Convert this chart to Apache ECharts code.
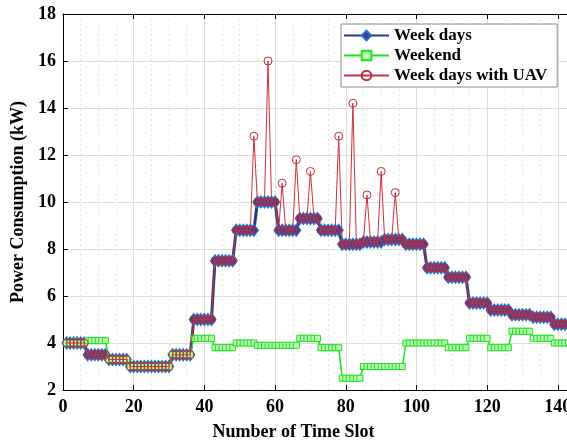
<!DOCTYPE html>
<html>
	<head>
		<meta charset="utf-8">
		<title>Power Consumption</title>
		<script src="https://cdn.jsdelivr.net/npm/echarts@6/dist/echarts.min.js"></script>
		<style>
			html,
			body {
				margin: 0;
				height: 100%;
				background: #fff;
			}
		</style>
	</head>
	<body>
		<div id="main" style="width: 567px;height:442px;"></div>
		<script>
			// values per time slot (6 slots per hour, 144 slots)
			var weekDays = [
				4.0, 4.0, 4.0, 4.0, 4.0, 4.0, 3.5, 3.5, 3.5, 3.5, 3.5, 3.5,
				3.3, 3.3, 3.3, 3.3, 3.3, 3.3, 3.0, 3.0, 3.0, 3.0, 3.0, 3.0,
				3.0, 3.0, 3.0, 3.0, 3.0, 3.0, 3.5, 3.5, 3.5, 3.5, 3.5, 3.5,
				5.0, 5.0, 5.0, 5.0, 5.0, 5.0, 7.5, 7.5, 7.5, 7.5, 7.5, 7.5,
				8.8, 8.8, 8.8, 8.8, 8.8, 8.8, 10.0, 10.0, 10.0, 10.0, 10.0, 10.0,
				8.8, 8.8, 8.8, 8.8, 8.8, 8.8, 9.3, 9.3, 9.3, 9.3, 9.3, 9.3,
				8.8, 8.8, 8.8, 8.8, 8.8, 8.8, 8.2, 8.2, 8.2, 8.2, 8.2, 8.2,
				8.3, 8.3, 8.3, 8.3, 8.3, 8.3, 8.4, 8.4, 8.4, 8.4, 8.4, 8.4,
				8.2, 8.2, 8.2, 8.2, 8.2, 8.2, 7.2, 7.2, 7.2, 7.2, 7.2, 7.2,
				6.8, 6.8, 6.8, 6.8, 6.8, 6.8, 5.7, 5.7, 5.7, 5.7, 5.7, 5.7,
				5.4, 5.4, 5.4, 5.4, 5.4, 5.4, 5.2, 5.2, 5.2, 5.2, 5.2, 5.2,
				5.1, 5.1, 5.1, 5.1, 5.1, 5.1, 4.8, 4.8, 4.8, 4.8, 4.8, 4.8
			];
			var weekend = [
				4.0, 4.0, 4.0, 4.0, 4.0, 4.0, 4.1, 4.1, 4.1, 4.1, 4.1, 4.1,
				3.3, 3.3, 3.3, 3.3, 3.3, 3.3, 3.0, 3.0, 3.0, 3.0, 3.0, 3.0,
				3.0, 3.0, 3.0, 3.0, 3.0, 3.0, 3.5, 3.5, 3.5, 3.5, 3.5, 3.5,
				4.2, 4.2, 4.2, 4.2, 4.2, 4.2, 3.8, 3.8, 3.8, 3.8, 3.8, 3.8,
				4.0, 4.0, 4.0, 4.0, 4.0, 4.0, 3.9, 3.9, 3.9, 3.9, 3.9, 3.9,
				3.9, 3.9, 3.9, 3.9, 3.9, 3.9, 4.2, 4.2, 4.2, 4.2, 4.2, 4.2,
				3.8, 3.8, 3.8, 3.8, 3.8, 3.8, 2.5, 2.5, 2.5, 2.5, 2.5, 2.5,
				3.0, 3.0, 3.0, 3.0, 3.0, 3.0, 3.0, 3.0, 3.0, 3.0, 3.0, 3.0,
				4.0, 4.0, 4.0, 4.0, 4.0, 4.0, 4.0, 4.0, 4.0, 4.0, 4.0, 4.0,
				3.8, 3.8, 3.8, 3.8, 3.8, 3.8, 4.2, 4.2, 4.2, 4.2, 4.2, 4.2,
				3.8, 3.8, 3.8, 3.8, 3.8, 3.8, 4.5, 4.5, 4.5, 4.5, 4.5, 4.5,
				4.2, 4.2, 4.2, 4.2, 4.2, 4.2, 4.0, 4.0, 4.0, 4.0, 4.0, 4.0
			];
			var weekDaysUav = [
				4.0, 4.0, 4.0, 4.0, 4.0, 4.0, 3.5, 3.5, 3.5, 3.5, 3.5, 3.5,
				3.3, 3.3, 3.3, 3.3, 3.3, 3.3, 3.0, 3.0, 3.0, 3.0, 3.0, 3.0,
				3.0, 3.0, 3.0, 3.0, 3.0, 3.0, 3.5, 3.5, 3.5, 3.5, 3.5, 3.5,
				5.0, 5.0, 5.0, 5.0, 5.0, 5.0, 7.5, 7.5, 7.5, 7.5, 7.5, 7.5,
				8.8, 8.8, 8.8, 8.8, 8.8, 12.8, 10.0, 10.0, 10.0, 16.0, 10.0, 10.0,
				8.8, 10.8, 8.8, 8.8, 8.8, 11.8, 9.3, 9.3, 9.3, 11.3, 9.3, 9.3,
				8.8, 8.8, 8.8, 8.8, 8.8, 12.8, 8.2, 8.2, 8.2, 14.2, 8.2, 8.2,
				8.3, 10.3, 8.3, 8.3, 8.3, 11.3, 8.4, 8.4, 8.4, 10.4, 8.4, 8.4,
				8.2, 8.2, 8.2, 8.2, 8.2, 8.2, 7.2, 7.2, 7.2, 7.2, 7.2, 7.2,
				6.8, 6.8, 6.8, 6.8, 6.8, 6.8, 5.7, 5.7, 5.7, 5.7, 5.7, 5.7,
				5.4, 5.4, 5.4, 5.4, 5.4, 5.4, 5.2, 5.2, 5.2, 5.2, 5.2, 5.2,
				5.1, 5.1, 5.1, 5.1, 5.1, 5.1, 4.8, 4.8, 4.8, 4.8, 4.8, 4.8
			];
			var xTicks = [0, 20, 40, 60, 80, 100, 120, 140];
			var yTicks = [2, 4, 6, 8, 10, 12, 14, 16, 18];

			var pairs = function(values) {
				var out = [];
				for(var i = 0; i < values.length; i++) {
					out.push([i + 1, values[i]]);
				}
				return out;
			}

			var font = 'Liberation Serif';
			var myChart = echarts.init(document.getElementById('main'));
			var option = {
				animation: false,
				grid: {
					left: 63,
					top: 14,
					right: -5,
					bottom: 52,
					outerBoundsMode: 'none'
				},
				legend: {
					orient: 'vertical',
					left: 341,
					top: 24,
					padding: [3, 10, 3, 2],
					itemGap: 3,
					itemWidth: 45,
					itemHeight: 12,
					backgroundColor: '#fff',
					borderColor: '#8a8a8a',
					borderWidth: 1,
					textStyle: {
						fontFamily: font,
						fontWeight: 'bold',
						fontSize: 17,
						color: '#000'
					},
					data: ['Week days', 'Weekend', 'Week days with UAV']
				},
				xAxis: [{
					type: 'value',
					min: 0,
					max: 144,
					interval: 20,
					name: 'Number of Time Slot',
					nameLocation: 'middle',
					nameGap: 33,
					nameTextStyle: {
						fontFamily: font,
						fontWeight: 'bold',
						fontSize: 18,
						color: '#000',
						padding: [0, 48, 0, 0]
					},
					axisLine: {
						lineStyle: {
							color: '#000',
							width: 1
						}
					},
					axisTick: {
						inside: true,
						length: 5,
						lineStyle: {
							color: '#000'
						}
					},
					axisLabel: {
						fontFamily: font,
						fontWeight: 'bold',
						fontSize: 18,
						color: '#000',
						margin: 8,
						formatter: function(v) {
							return xTicks.indexOf(v) >= 0 ? String(v) : '';
						}
					},
					splitLine: {
						show: true,
						lineStyle: {
							color: '#dcdcdc',
							width: 1
						}
					},
					minorTick: {
						show: false,
						splitNumber: 4
					},
					minorSplitLine: {
						show: true,
						lineStyle: {
							color: '#e4e4e4',
							type: [2, 3]
						}
					}
				}, {
					type: 'value',
					position: 'top',
					min: 0,
					max: 144,
					interval: 20,
					axisLine: {
						lineStyle: {
							color: '#000'
						}
					},
					axisTick: {
						inside: true,
						length: 5,
						lineStyle: {
							color: '#000'
						}
					},
					axisLabel: {
						show: false
					},
					splitLine: {
						show: false
					}
				}],
				yAxis: [{
					type: 'value',
					min: 2,
					max: 18,
					interval: 2,
					name: 'Power Consumption (kW)',
					nameLocation: 'middle',
					nameGap: 32,
					nameTextStyle: {
						fontFamily: font,
						fontWeight: 'bold',
						fontSize: 18,
						color: '#000'
					},
					axisLine: {
						show: true,
						lineStyle: {
							color: '#000'
						}
					},
					axisTick: {
						show: true,
						inside: true,
						length: 5,
						lineStyle: {
							color: '#000'
						}
					},
					axisLabel: {
						fontFamily: font,
						fontWeight: 'bold',
						fontSize: 18,
						color: '#000',
						margin: 7,
						formatter: function(v) {
							return yTicks.indexOf(v) >= 0 ? String(v) : '';
						}
					},
					splitLine: {
						show: true,
						lineStyle: {
							color: '#dcdcdc'
						}
					}
				}],
				series: [{
					name: 'Week days',
					type: 'line',
					data: pairs(weekDays),
					symbol: 'diamond',
					symbolSize: [9, 12],
					lineStyle: {
						color: '#1f3c7c',
						width: 3
					},
					itemStyle: {
						color: '#5a3482',
						borderColor: '#1c78cf',
						borderWidth: 1.2
					},
					z: 2
				}, {
					name: 'Weekend',
					type: 'line',
					data: pairs(weekend),
					symbol: 'rect',
					symbolSize: 6,
					lineStyle: {
						color: '#14e614',
						width: 1.5
					},
					itemStyle: {
						color: '#b8ffb0',
						borderColor: '#22e022',
						borderWidth: 1
					},
					z: 3
				}, {
					name: 'Week days with UAV',
					type: 'line',
					data: pairs(weekDaysUav),
					symbol: 'circle',
					symbolSize: 8,
					lineStyle: {
						color: '#d0303c',
						width: 1
					},
					itemStyle: {
						color: 'rgba(255,255,255,0)',
						borderColor: '#b8303e',
						borderWidth: 1
					},
					z: 4
				}]
			};
			myChart.setOption(option);
		</script>
	</body>
</html>
